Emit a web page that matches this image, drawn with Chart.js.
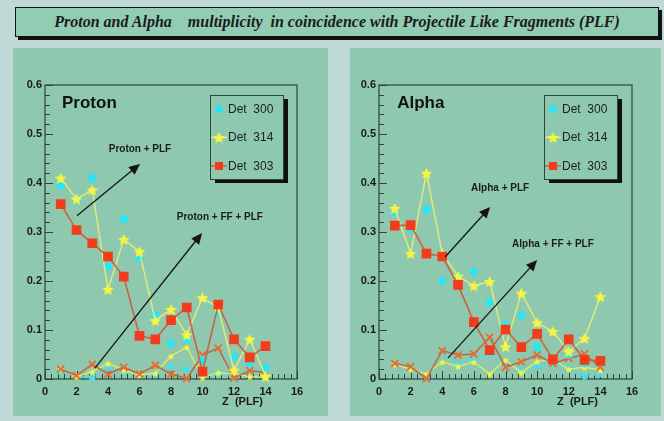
<!DOCTYPE html>
<html>
<head>
<meta charset="utf-8">
<script src="https://cdn.jsdelivr.net/npm/chart.js@4.4.0/dist/chart.umd.min.js"></script>
<style>
  body { margin: 0; width: 664px; height: 421px; background: #bfdad6; position: relative; overflow: hidden; }
  #banner {
    position: absolute; left: 15px; top: 7px; width: 642px; height: 28px;
    background: #92ccb3; border: 1.5px solid #111; box-shadow: 3px 3px 0 #111;
    font: italic bold 16px "Liberation Serif", "Times New Roman", serif; color: #1b1b1b;
    text-align: center; line-height: 28px; white-space: pre;
  }
  .panel { position: absolute; top: 48px; height: 368px; background: #8ec8af; }
  #leftPanel { left: 13px; width: 315px; }
  #rightPanel { left: 350px; width: 311px; }
</style>
</head>
<body>
<div id="banner">Proton and Alpha    multiplicity  in coincidence with Projectile Like Fragments (PLF)</div>
<div class="panel" id="leftPanel"><canvas id="protonChart" width="315" height="368"></canvas></div>
<div class="panel" id="rightPanel"><canvas id="alphaChart" width="311" height="368"></canvas></div>

<script>
// Z of the projectile like fragment
const zValues = [1, 2, 3, 4, 5, 6, 7, 8, 9, 10, 11, 12, 13, 14];
const detLabels = ['Det  300', 'Det  314', 'Det  303'];
const xTicks = [0, 2, 4, 6, 8, 10, 12, 14, 16];
const yTicks = [0, 0.1, 0.2, 0.3, 0.4, 0.5, 0.6];

// Proton + PLF
const protonDet300 = [0.394, 0.365, 0.41, 0.23, 0.326, 0.246, 0.13, 0.073, 0.08, 0.039, 0.134, 0.045, 0.032, 0.022];
const protonDet314 = [0.41, 0.367, 0.386, 0.183, 0.285, 0.26, 0.119, 0.142, 0.09, 0.166, 0.145, 0.018, 0.081, 0.006];
const protonDet303 = [0.357, 0.304, 0.277, 0.25, 0.209, 0.088, 0.081, 0.12, 0.146, 0.015, 0.152, 0.081, 0.044, 0.067];
// Proton + FF + PLF
const protonFF300 = [0.015, 0.005, 0.003, 0.022, 0.015, 0.008, 0.01, 0.025, 0.02, 0.01, 0.01, 0.005, 0.015, 0.018];
const protonFF314 = [0.02, 0.005, 0.015, 0.032, 0.018, 0.008, 0.012, 0.047, 0.065, 0.003, 0.013, 0.01, 0.005, 0.003];
const protonFF303 = [0.02, 0.007, 0.03, 0.01, 0.024, 0.01, 0.028, 0.01, 0.001, 0.049, 0.063, 0.002, 0.017, 0.013];

// Alpha + PLF
const alphaDet300 = [0.341, 0.307, 0.346, 0.2, 0.21, 0.219, 0.156, 0.11, 0.13, 0.065, 0.039, 0.05, 0.032, 0.035];
const alphaDet314 = [0.348, 0.256, 0.42, 0.256, 0.21, 0.19, 0.199, 0.066, 0.175, 0.115, 0.097, 0.056, 0.083, 0.168];
const alphaDet303 = [0.313, 0.314, 0.256, 0.25, 0.192, 0.116, 0.059, 0.101, 0.065, 0.092, 0.04, 0.081, 0.039, 0.037];
// Alpha + FF + PLF
const alphaFF300 = [0.03, 0.02, 0.005, 0.055, 0.03, 0.04, 0.05, 0.03, 0.02, 0.025, 0.03, 0.02, 0.005, 0.01];
const alphaFF314 = [0.03, 0.02, 0.01, 0.035, 0.026, 0.035, 0.01, 0.039, 0.013, 0.036, 0.039, 0.02, 0.024, 0.018];
const alphaFF303 = [0.032, 0.025, 0.001, 0.058, 0.049, 0.051, 0.085, 0.024, 0.035, 0.049, 0.032, 0.042, 0.051, 0.024];

Chart.defaults.font.family = '"Liberation Sans", Arial, sans-serif';
Chart.defaults.color = '#1a1a1a';

const CYAN = '#2fe3f2', YELLOW = '#f6f445', RED = '#f23c1c';
const FRAME = '#2a463d';

// filled star used as point style
function starImage(size, fill) {
    const c = document.createElement('canvas');
    c.width = c.height = size;
    const ctx = c.getContext('2d');
    const r = size / 2, ri = r * 0.45;
    ctx.beginPath();
    for (let i = 0; i < 10; i++) {
        const a = -Math.PI / 2 + i * Math.PI / 5;
        const rr = i % 2 ? ri : r - 0.3;
        ctx.lineTo(r + rr * Math.cos(a), r + 0.6 + rr * Math.sin(a));
    }
    ctx.closePath();
    ctx.fillStyle = fill;
    ctx.fill();
    return c;
}
const bigStar = starImage(13, YELLOW);
const smallStar = starImage(8, YELLOW);

function pts(values) { return zValues.map((z, i) => ({ x: z, y: values[i] })); }

function buildDatasets(d300, d314, d303, f300, f314, f303) {
    return [
        { label: detLabels[0], data: pts(d300), showLine: false, pointStyle: 'circle', pointRadius: 4.3,
          backgroundColor: CYAN, borderColor: CYAN, borderWidth: 0, clip: false, order: 3 },
        { label: detLabels[1], data: pts(d314), showLine: true, pointStyle: bigStar, borderColor: '#e4ec7a',
          backgroundColor: YELLOW, borderWidth: 1.4, clip: false, order: 2 },
        { label: detLabels[2], data: pts(d303), showLine: true, pointStyle: 'rect', pointRadius: 5.7,
          backgroundColor: RED, borderColor: '#c8643c', pointBorderColor: RED, borderWidth: 1.6, clip: false, order: 1 },
        { label: 'FF 300', data: pts(f300), showLine: true, pointStyle: 'circle', pointRadius: 2.5,
          backgroundColor: CYAN, borderColor: '#5ad9e0', borderWidth: 1.5, clip: false, order: 6 },
        { label: 'FF 314', data: pts(f314), showLine: true, pointStyle: smallStar, borderColor: '#e6ec5a',
          backgroundColor: YELLOW, borderWidth: 1.3, clip: false, order: 5 },
        { label: 'FF 303', data: pts(f303), showLine: true, pointStyle: 'crossRot', pointRadius: 5,
          borderColor: '#c06a45', pointBorderColor: '#ec6a2a', borderWidth: 1.6, pointBorderWidth: 1.8, clip: false, order: 4 }
    ];
}

// ROOT like frame with inward ticks
const framePlugin = {
    id: 'rootFrame',
    beforeDatasetsDraw(chart) {
        const { ctx, chartArea: a, scales: { x, y } } = chart;
        ctx.save();
        ctx.strokeStyle = FRAME;
        ctx.lineWidth = 1.2;
        ctx.strokeRect(a.left, a.top, a.right - a.left, a.bottom - a.top);
        ctx.lineWidth = 1;
        ctx.beginPath();
        for (let k = 0; k <= 30; k++) {
            const v = k * 0.02;
            const len = k % 5 === 0 ? 8 : 5;
            const py = Math.round(y.getPixelForValue(v)) + 0.5;
            ctx.moveTo(a.left, py); ctx.lineTo(a.left + len, py);
        }
        for (let k = 0; k <= 40; k++) {
            const v = k * 0.4;
            const len = k % 5 === 0 ? 8 : 5;
            const px = Math.round(x.getPixelForValue(v)) + 0.5;
            ctx.moveTo(px, a.bottom); ctx.lineTo(px, a.bottom - len);
        }
        ctx.stroke();
        ctx.restore();
    },
    afterDatasetsDraw(chart, args, opts) {
        const { ctx, chartArea: a, scales: { x, y } } = chart;
        ctx.save();
        // panel name
        ctx.fillStyle = '#111';
        ctx.font = 'bold 17px "Liberation Sans", Arial, sans-serif';
        ctx.textBaseline = 'middle';
        ctx.textAlign = 'left';
        ctx.fillText(opts.name, x.getPixelForValue(opts.nameAt[0]), y.getPixelForValue(opts.nameAt[1]));

        // arrows with notes
        ctx.font = 'bold 10px "Liberation Sans", Arial, sans-serif';
        ctx.textAlign = 'center';
        opts.notes.forEach(n => {
            ctx.fillStyle = '#1c1c1c';
            ctx.fillText(n.text, x.getPixelForValue(n.at[0]), y.getPixelForValue(n.at[1]));
            const x0 = x.getPixelForValue(n.from[0]), y0 = y.getPixelForValue(n.from[1]);
            const x1 = x.getPixelForValue(n.to[0]), y1 = y.getPixelForValue(n.to[1]);
            const ang = Math.atan2(y1 - y0, x1 - x0);
            ctx.strokeStyle = '#151515';
            ctx.lineWidth = 1.3;
            ctx.beginPath();
            ctx.moveTo(x0, y0);
            ctx.lineTo(x1 - 8 * Math.cos(ang), y1 - 8 * Math.sin(ang));
            ctx.stroke();
            ctx.beginPath();
            ctx.moveTo(x1, y1);
            ctx.lineTo(x1 - 11 * Math.cos(ang) + 5 * Math.sin(ang), y1 - 11 * Math.sin(ang) - 5 * Math.cos(ang));
            ctx.lineTo(x1 - 11 * Math.cos(ang) - 5 * Math.sin(ang), y1 - 11 * Math.sin(ang) + 5 * Math.cos(ang));
            ctx.closePath();
            ctx.fillStyle = '#151515';
            ctx.fill();
        });

        // axis title
        ctx.font = 'bold 11px "Liberation Sans", Arial, sans-serif';
        ctx.textAlign = 'right';
        ctx.textBaseline = 'alphabetic';
        ctx.fillStyle = '#1a1a1a';
        ctx.fillText('Z  (PLF)', a.right - 34, a.bottom + 26);

        // legend box with shadow
        const bx = a.left + 165, by = a.top + 10, bw = 73, bh = 84;
        ctx.fillStyle = '#111';
        ctx.fillRect(bx + 5, by + 4, bw, bh);
        ctx.fillStyle = '#8ec8af';
        ctx.fillRect(bx, by, bw, bh);
        ctx.strokeStyle = FRAME;
        ctx.lineWidth = 1;
        ctx.strokeRect(bx + 0.5, by + 0.5, bw, bh);
        ctx.font = '12px "Liberation Sans", Arial, sans-serif';
        ctx.textAlign = 'left';
        ctx.textBaseline = 'middle';
        chart.data.datasets.slice(0, 3).forEach((ds, i) => {
            const ly = by + 14 + i * 28.5, mx = bx + 9;
            if (ds.showLine) {
                ctx.strokeStyle = ds.borderColor;
                ctx.lineWidth = 1.5;
                ctx.beginPath(); ctx.moveTo(bx + 1, ly); ctx.lineTo(bx + 17, ly); ctx.stroke();
            }
            if (ds.pointStyle instanceof HTMLCanvasElement) {
                ctx.drawImage(ds.pointStyle, mx - ds.pointStyle.width / 2, ly - ds.pointStyle.height / 2);
            } else if (ds.pointStyle === 'rect') {
                ctx.fillStyle = ds.backgroundColor;
                ctx.fillRect(mx - 4, ly - 4, 8, 8);
            } else {
                ctx.fillStyle = ds.backgroundColor;
                ctx.beginPath(); ctx.arc(mx, ly, 4, 0, Math.PI * 2); ctx.fill();
            }
            ctx.fillStyle = '#1e1e1e';
            ctx.fillText(ds.label, bx + 18, ly + 0.5);
        });
        ctx.restore();
    }
};

function makeChart(id, datasets, padLeft, padRight, notes) {
    return new Chart(document.getElementById(id), {
        type: 'scatter',
        data: { datasets },
        options: {
            responsive: false, animation: false,
            layout: { padding: { left: padLeft, right: padRight, top: 37, bottom: 17 } },
            scales: {
                x: {
                    type: 'linear', min: 0, max: 16,
                    afterFit(s) { s.height = 20; },
                    afterBuildTicks(s) { s.ticks = xTicks.map(v => ({ value: v })); },
                    grid: { display: false, drawTicks: false }, border: { display: false },
                    ticks: { autoSkip: false, maxRotation: 0, padding: 6, color: '#1a1a1a',
                             font: { size: 11, weight: 'bold' }, callback: v => String(v) }
                },
                y: {
                    type: 'linear', min: 0, max: 0.6,
                    afterFit(s) { s.width = 30; },
                    afterBuildTicks(s) { s.ticks = yTicks.map(v => ({ value: v })); },
                    grid: { display: false, drawTicks: false }, border: { display: false },
                    ticks: { autoSkip: false, padding: 3, color: '#1a1a1a',
                             font: { size: 11, weight: 'bold' }, callback: v => v === 0 ? '0' : v.toFixed(1) }
                }
            },
            plugins: {
                legend: { display: false },
                tooltip: { enabled: false },
                rootFrame: notes
            }
        },
        plugins: [framePlugin]
    });
}

makeChart('protonChart',
    buildDatasets(protonDet300, protonDet314, protonDet303, protonFF300, protonFF314, protonFF303),
    2, 31,
    { name: 'Proton', nameAt: [1.08, 0.563],
      notes: [
        { text: 'Proton + PLF', at: [6.03, 0.469], from: [2.03, 0.333], to: [6.03, 0.439] },
        { text: 'Proton + FF + PLF', at: [11.1, 0.331], from: [3.17, 0.022], to: [9.97, 0.298] }
      ] });

makeChart('alphaChart',
    buildDatasets(alphaDet300, alphaDet314, alphaDet303, alphaFF300, alphaFF314, alphaFF303),
    -1, 29,
    { name: 'Alpha', nameAt: [1.15, 0.563],
      notes: [
        { text: 'Alpha + PLF', at: [7.66, 0.39], from: [4.18, 0.249], to: [7.03, 0.351] },
        { text: 'Alpha + FF + PLF', at: [11.0, 0.276], from: [4.37, 0.043], to: [10.0, 0.243] }
      ] });
</script>
</body>
</html>
